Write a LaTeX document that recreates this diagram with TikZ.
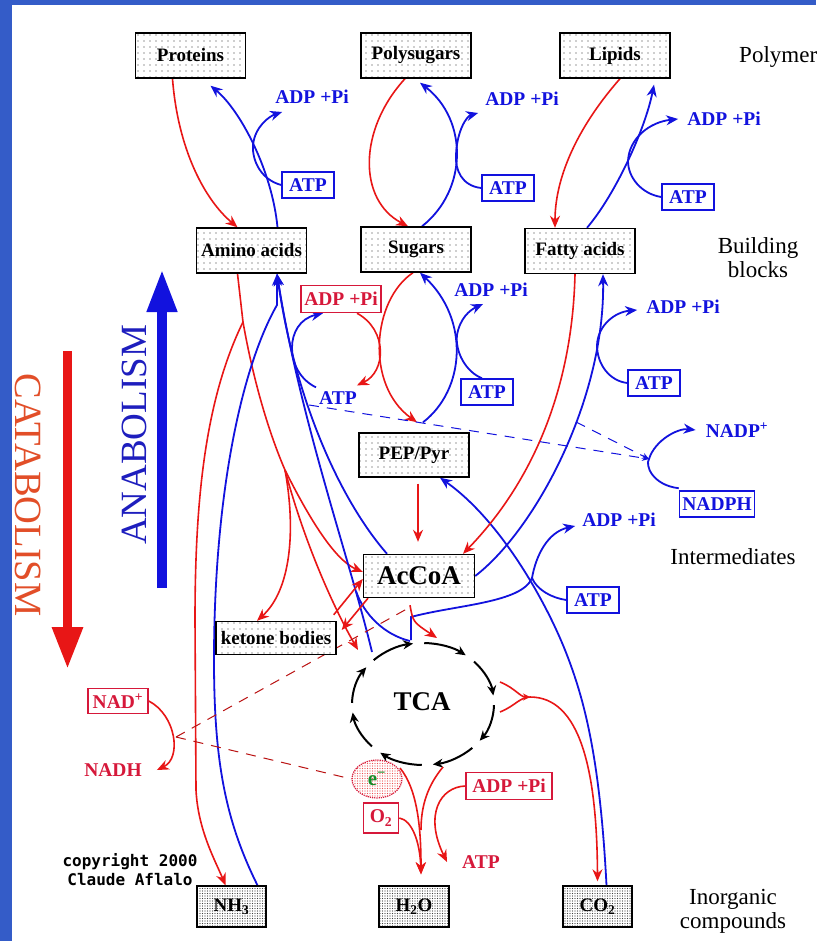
\documentclass[tikz,border=0pt]{standalone}
\usepackage{fontspec}
\setmainfont{Liberation Serif}
\newfontfamily\copyfont{DejaVu Sans Mono}
\usetikzlibrary{arrows.meta, patterns, backgrounds, positioning, shapes.geometric}
\definecolor{myblue}{RGB}{18,18,222}
\definecolor{myred}{RGB}{232,22,22}
\definecolor{boxred}{RGB}{214,24,58}
\definecolor{frameblue}{RGB}{52,92,200}
\definecolor{anatext}{RGB}{30,30,190}
\definecolor{cattext}{RGB}{226,78,40}
\definecolor{egreen}{RGB}{20,140,40}
\pgfdeclarepatternformonly{sparsedots}{\pgfqpoint{-1pt}{-1pt}}{\pgfqpoint{1pt}{1pt}}{\pgfqpoint{6pt}{6pt}}{\pgfpathcircle{\pgfpointorigin}{0.7pt}\pgfusepath{fill}}
\pgfdeclarepatternformonly{densedots}{\pgfqpoint{-1pt}{-1pt}}{\pgfqpoint{1pt}{1pt}}{\pgfqpoint{2.5pt}{2.5pt}}{\pgfpathcircle{\pgfpointorigin}{0.65pt}\pgfusepath{fill}}
\newcommand{\boxfont}{\fontsize{19}{19}\selectfont\bfseries}
\newcommand{\bigboxfont}{\fontsize{27}{27}\selectfont\bfseries}
\newcommand{\sidefont}{\fontsize{23}{24}\selectfont}
\newcommand{\smfont}{\fontsize{19.5}{19.5}\selectfont\bfseries}

\begin{document}
\begin{tikzpicture}[
		x=1pt, y=-1pt,
		>={Stealth[length=12pt,width=10pt]},
		sbox/.style={draw, line width=1.4pt, minimum width=110, minimum height=45, inner sep=1pt,
				font=\boxfont, preaction={fill=white}, pattern=sparsedots, pattern color=black!80},
		ibox/.style={draw, line width=1.4pt, minimum width=69, minimum height=41, inner sep=1pt,
				font=\boxfont, preaction={fill=white}, pattern=densedots, pattern color=black!75},
		abox/.style={draw=myblue, line width=1.5pt, text=myblue, font=\smfont, minimum width=52, minimum height=26, inner sep=1pt, fill=white},
		rbox/.style={draw=boxred, line width=1.5pt, text=boxred, font=\smfont, minimum height=26, inner sep=2pt, fill=white},
		atext/.style={text=myblue, font=\smfont, inner sep=1pt},
		rtext/.style={text=boxred, font=\smfont, inner sep=1pt},
		side/.style={font=\sidefont, align=center, inner sep=0pt},
		ana/.style={draw=myblue, line width=1.8pt},
		cat/.style={draw=myred, line width=1.6pt},
		dashbl/.style={draw=myblue, line width=1pt, dash pattern=on 10pt off 8pt, -{Stealth[length=7pt,width=6pt]}},
		dashrd/.style={draw=myred!80!black, line width=1pt, dash pattern=on 10pt off 8pt},
		tcaarc/.style={draw=black, line width=2pt, -{Stealth[length=10pt,width=9pt]}}
	]
	\useasboundingbox (0,0) rectangle (816,941);

	\node[sbox] (prot) at (190.5,55.5) {Proteins};
	\node[sbox] (psug) at (416,55.5) {Polysugars};
	\node[sbox] (lip) at (615,55.5) {Lipids};
	\node[sbox] (amino) at (251.5,250.5) {Amino acids};
	\node[sbox] (sug) at (416,249.5) {Sugars};
	\node[sbox] (fatty) at (580,251) {Fatty acids};
	\node[sbox, minimum height=44] (pep) at (414,455) {PEP/Pyr};
	\node[sbox, minimum width=111, minimum height=43, font=\bigboxfont] (accoa) at (419,576) {AcCoA};
	\node[sbox, minimum width=120, minimum height=33] (keto) at (276,638) {ketone bodies};
	\node[ibox] (nh3) at (231.5,906.5) {NH\textsubscript{3}};
	\node[ibox, minimum width=70] (h2o) at (414,906.5) {H\textsubscript{2}O};
	\node[ibox] (co2) at (597.5,906.5) {CO\textsubscript{2}};

	\node[side, anchor=west] (polym) at (739,57) {Polymer};
	\node[side] (build) at (758,258) {Building\\blocks};
	\node[side] (inter) at (733,557) {Intermediates};
	\node[side] (inorg) at (733,911) {Inorganic\\compounds};

	\node[abox] (atp1) at (308,185) {ATP};
	\node[abox] (atp2) at (508,188) {ATP};
	\node[abox] (atp3) at (688,197) {ATP};
	\node[abox] (atp4) at (487,392) {ATP};
	\node[abox] (atp5) at (654,383) {ATP};
	\node[abox] (atp6) at (593,600) {ATP};
	\node[atext] (adp1) at (312,97) {ADP +Pi};
	\node[atext] (adp2) at (522,99) {ADP +Pi};
	\node[atext] (adp3) at (724,119) {ADP +Pi};
	\node[atext] (adp4) at (491,290) {ADP +Pi};
	\node[atext] (adp5) at (683,307) {ADP +Pi};
	\node[atext] (adp6) at (619,520) {ADP +Pi};
	\node[atext] (atpf) at (338,398) {ATP};
	\node[atext] (nadpp) at (737,430) {NADP\textsuperscript{+}};
	\node[abox, minimum width=75] (nadph) at (717,504) {NADPH};

	\node[rbox, minimum width=80, minimum height=27] (radp) at (341,299) {ADP +Pi};
	\node[rbox, minimum width=60, minimum height=25] (nadbox) at (118,701) {NAD\textsuperscript{+}};
	\node[rtext] (nadh) at (113,770) {NADH};
	\node[rbox, minimum width=35, minimum height=30] (o2) at (381,818) {O\textsubscript{2}};
	\node[rbox, minimum width=86, minimum height=27] (radp2) at (509,786) {ADP +Pi};
	\node[rtext] (ratp) at (481,862) {ATP};
	\node[ellipse, draw=boxred, densely dotted, line width=1.2pt, minimum width=50, minimum height=38, inner sep=0pt,
		preaction={fill=white}, pattern=densedots, pattern color=myred!75, text=egreen, font=\fontsize{21}{21}\selectfont\bfseries] (eminus) at (377,779) {e\textsuperscript{−}};

	\coordinate (tcac) at (423,704);
	\node[font=\bigboxfont] (tca) at (422,702) {TCA};

	\node[font=\copyfont\bfseries\fontsize{16}{19}\selectfont, align=center] (copyr) at (130,870) {copyright 2000\\Claude Aflalo};

	\draw[draw=myblue, line width=10pt, -{Triangle[length=43pt,width=28pt]}] (162,588) -- (162,269);
	\draw[draw=myred, line width=9pt, -{Triangle[length=42pt,width=29pt]}] (67.5,351) -- (67.5,669);
	\node[rotate=90, text=anatext, font=\fontsize{37}{37}\selectfont] (anab) at (134,435) {ANABOLISM};
	\node[rotate=-90, text=cattext, font=\fontsize{38.5}{38.5}\selectfont] (catab) at (28,495) {CATABOLISM};

	\coordinate (aatop) at (243,322);
	\coordinate (aafork) at (285,470);
	\coordinate (pcjoin) at (532,578);
	\coordinate (nadj) at (649,459);
	\coordinate (co2join) at (530,697);
	\coordinate (nadj2) at (176,737);

	\begin{scope}[on background layer]
		\fill[white] (0,0) rectangle (816,941);
		\fill[frameblue] (0,0) rectangle (12,941);
		\fill[frameblue] (0,0) rectangle (816,5);

		\draw[cat,->] ([xshift=-18]prot.south) .. controls (178,150) and (205,200) .. ([xshift=-14]amino.north);
		\draw[ana,->] ([xshift=26]amino.north) .. controls (272,170) and (240,110) .. ([xshift=20,yshift=-7]prot.south);
		\draw[ana,->] (atp1.west) .. controls (262,180) and (252,162) .. (253,145) .. controls (255,126) and (270,116) .. ([xshift=8,yshift=-7]adp1.south west);

		\draw[cat,->] ([xshift=-11]psug.south) .. controls (358,130) and (358,200) .. ([xshift=-8]sug.north);
		\draw[ana,->] ([xshift=6]sug.north) .. controls (468,190) and (468,120) .. ([xshift=4,yshift=-4]psug.south);
		\draw[ana,->] (atp2.west) .. controls (462,186) and (455,170) .. (456,155) .. controls (457,130) and (467,116) .. ([xshift=-6,yshift=-6]adp2.south west);

		\draw[cat,->] ([xshift=5]lip.south) .. controls (575,130) and (555,180) .. ([xshift=-25]fatty.north);
		\draw[ana,->] ([xshift=7]fatty.north) .. controls (615,195) and (645,130) .. ([xshift=39,yshift=-6]lip.south);
		\draw[ana,->] (atp3.west) .. controls (642,194) and (628,178) .. (628,161) .. controls (629,138) and (650,122) .. ([xshift=-8]adp3.west);

		\draw[cat] ([xshift=-14]amino.south) -- (aatop) .. controls (255,390) and (272,440) .. (aafork);
		\draw[cat,->] (aafork) .. controls (310,520) and (335,560) .. ([yshift=4]accoa.west);
		\draw[cat,->] (aafork) .. controls (305,545) and (335,610) .. ([shift={(-65,-54)}]tcac);
		\draw[cat,->] (aafork) .. controls (296,530) and (291,590) .. ([xshift=-19]keto.north);
		\draw[cat,->] (aatop) .. controls (205,400) and (195,500) .. (195,620) -- (196,790) .. controls (198,830) and (215,860) .. ([xshift=-6]nh3.north);

		\draw[ana,->] ([xshift=26]nh3.north) .. controls (225,820) and (214,760) .. (214,660) .. controls (214,500) and (240,370) .. (277,305) -- ([xshift=25.5]amino.south);
		\draw[ana,->] ([shift={(-51,-52)}]tcac) .. controls (350,560) and (300,420) .. ([xshift=25.5]amino.south);
		\draw[ana,->] ([xshift=-32]accoa.north) .. controls (340,500) and (295,400) .. ([xshift=25.5]amino.south);
		\draw[ana] ([shift={(-13,-63)}]tcac) .. controls (385,635) and (364,615) .. (356,591);

		\draw[ana,->] ([shift={(-12,-64)}]tcac) -- (411,617) .. controls (455,605) and (522,603) .. (pcjoin) .. controls (536,555) and (548,532) .. ([xshift=-6,yshift=-6]adp6.west);
		\draw[ana] (atp6.west) .. controls (552,598) and (537,590) .. (pcjoin);
		\draw[ana,->] ([xshift=9]co2.north) .. controls (600,760) and (585,700) .. (565,650) .. controls (545,600) and (500,520) .. ([xshift=26]pep.south);

		\draw[ana,->] (accoa.east) .. controls (535,530) and (605,400) .. ([xshift=23]fatty.south);
		\draw[ana,->] (atp5.west) .. controls (610,381) and (597,365) .. (597,345) .. controls (598,325) and (615,312) .. ([xshift=-8,yshift=-3]adp5.west);
		\draw[cat,->] ([xshift=-5]fatty.south) .. controls (572,400) and (525,490) .. ([xshift=44]accoa.north);

		\draw[cat,->] ([xshift=4,yshift=-6]pep.south) -- ([xshift=-1,yshift=12]accoa.north);
		\draw[cat,->] ([xshift=-3]sug.south) .. controls (372,300) and (365,385) .. ([xshift=3,yshift=10]pep.north);
		\draw[ana,->] ([xshift=9,yshift=10]pep.north) .. controls (465,390) and (470,320) .. ([xshift=4]sug.south);
		\draw[ana,->] ([xshift=-5]atp4.north) .. controls (466,372) and (455,352) .. (457,335) .. controls (460,318) and (470,310) .. ([xshift=-8,yshift=-6]adp4.south);

		\draw[cat,->] ([xshift=16]radp.south) .. controls (388,330) and (386,372) .. ([xshift=-1,yshift=5]atpf.north east);
		\draw[ana,->] ([xshift=-2,yshift=3]atpf.north west) .. controls (284,372) and (284,322) .. ([xshift=-18]radp.south);

		\draw[dashbl] ([xshift=-9,yshift=-7]atpf.west) -- (nadj);
		\draw[dashbl] (576,422) -- (nadj);
		\draw[ana,->] ([yshift=2]nadph.north west) .. controls (652,485) and (645,465) .. (nadj) .. controls (655,440) and (678,428) .. ([xshift=-9]nadpp.west);

		\draw[cat,->] ([xshift=-3,yshift=6]keto.north east) -- ([yshift=-3]accoa.west);
		\draw[cat,->] ([xshift=-51]accoa.south) -- ([xshift=5,yshift=8]keto.east);
		\draw[cat,->] ([xshift=-9,yshift=-7]accoa.south) .. controls (413,622) .. ([shift={(14,-66)}]tcac);

		\foreach \a in {-134,-89,...,181}
			\draw[tcaarc] ([shift={(\a:71 and 61)}]tcac) arc[start angle=\a, delta angle=36, x radius=71, y radius=61];

		\draw[cat,-{Stealth[length=7pt,width=7pt]}] ([shift={(77,-22)}]tcac) .. controls (515,688) and (520,697) .. (co2join);
		\draw[cat] ([shift={(77,8)}]tcac) .. controls (515,706) and (520,697) .. (co2join);
		\draw[cat,->] (co2join) .. controls (580,697) and (597,770) .. ([yshift=4]co2.north);

		\draw[cat,->] ([shift={(-23,64)}]tcac) .. controls (418,790) and (421,830) .. ([xshift=7,yshift=11]h2o.north);
		\draw[cat] ([shift={(20,63)}]tcac) .. controls (428,785) and (421,805) .. (421,830);
		\draw[cat,->] (radp2.west) .. controls (440,787) and (424,815) .. ([xshift=-14]ratp.west);
		\draw[cat,->] (o2.east) .. controls (412,820) and (420,842) .. ([xshift=7,yshift=11]h2o.north);

		\draw[cat,->] (nadbox.east) .. controls (176,715) and (182,758) .. ([xshift=14]nadh.east);
		\draw[dashrd] (nadj2) -- ([xshift=-9,yshift=-9]accoa.south);
		\draw[dashrd] (nadj2) -- (eminus.west);
	\end{scope}
\end{tikzpicture}
\end{document}
